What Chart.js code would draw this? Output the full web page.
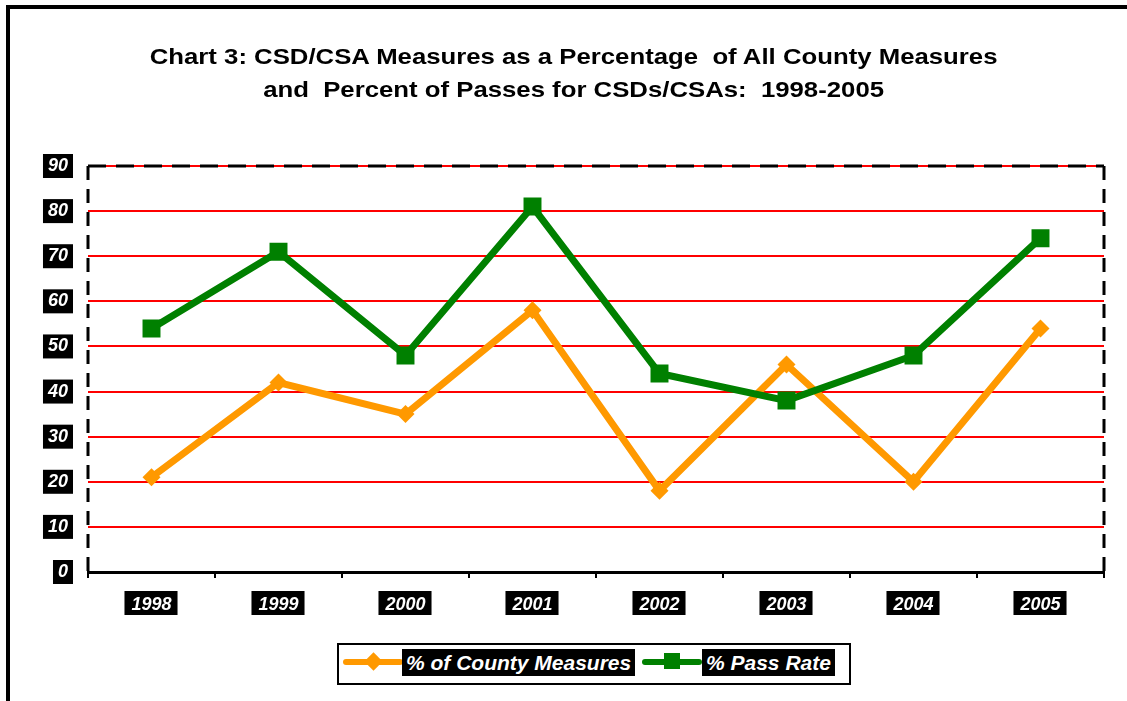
<!DOCTYPE html>
<html>
<head>
<meta charset="utf-8">
<script src="https://cdn.jsdelivr.net/npm/chart.js@4"></script>
<style>
  body { margin: 0; background: #fff; font-family: "Liberation Sans", Arial, sans-serif; }
  #wrap { position: relative; width: 1127px; height: 701px; overflow: hidden; }
  #frame { position: absolute; left: 6px; top: 5px; right: -10px; bottom: -10px;
    border-top: 4px solid #000; border-left: 4px solid #000; pointer-events: none; }
  #title { position: absolute; left: 0; width: 1147px; top: 40px; text-align: center;
    font-weight: bold; font-size: 22px; line-height: 33px; color: #000; white-space: pre;
    transform: scaleX(1.17); transform-origin: 573px 0; }
  #legend { position: absolute; left: 337px; top: 643px; width: 510px; height: 38px;
    border: 2px solid #000; box-sizing: content-box; }
  .lline { position: absolute; height: 6px; border-radius: 3px; top: 14px; }
  .lbox { position: absolute; top: 4px; height: 27px; background: #000; color: #fff;
    font-weight: bold; font-style: italic; font-size: 21px; line-height: 27px; padding: 0 4px; white-space: pre; }
  .mk { position: absolute; }
</style>
</head>
<body>
<div id="wrap">
  <canvas id="c" width="1127" height="701"></canvas>
  <div id="frame"></div>
  <div id="title">Chart 3: CSD/CSA Measures as a Percentage  of All County Measures
and  Percent of Passes for CSDs/CSAs:  1998-2005</div>
  <div id="legend">
    <div class="lline" style="left:4px;width:60px;background:#FF9900"></div>
    <div class="mk" style="left:28px;top:10px;width:13px;height:13px;background:#FF9900;transform:rotate(45deg)"></div>
    <div class="lbox" style="left:63px">% of County Measures</div>
    <div class="lline" style="left:303px;width:60px;background:#008000"></div>
    <div class="mk" style="left:325px;top:8px;width:16px;height:16px;background:#008000"></div>
    <div class="lbox" style="left:363px">% Pass Rate</div>
  </div>
</div>
<script>
const years = ["1998", "1999", "2000", "2001", "2002", "2003", "2004", "2005"];
const countyMeasures = [21, 42, 35, 58, 18, 46, 20, 54];
const passRate = [54, 71, 48, 81, 44, 38, 48, 74];
const yTicks = [0, 10, 20, 30, 40, 50, 60, 70, 80, 90];

const tickFont = { family: "Liberation Sans", size: 18, weight: "bold", style: "italic" };

// black boxes behind tick labels, dashed edges of the plot
const boxes = {
  id: "boxes",
  beforeDraw(chart) {
    const ctx = chart.ctx;
    const ca = chart.chartArea;
    ctx.save();
    ctx.font = "italic bold 18px 'Liberation Sans'";
    ctx.fillStyle = "#000";
    const ys = chart.scales.y;
    ys.ticks.forEach((t, i) => {
      const y = ys.getPixelForTick(i);
      const w = ctx.measureText(String(t.value)).width;
      const r = ca.left - 15;
      ctx.fillRect(r - w - 10, y - 12, w + 10, 24);
    });
    const xs = chart.scales.x;
    xs.ticks.forEach((t, i) => {
      const x = xs.getPixelForTick(i);
      const w = ctx.measureText(years[i]).width;
      ctx.fillRect(x - w / 2 - 7, ca.bottom + 19, w + 13, 24);
    });
    ctx.restore();
  },
  beforeDatasetsDraw(chart) {
    const ctx = chart.ctx;
    const ca = chart.chartArea;
    ctx.save();
    ctx.strokeStyle = "#000";
    ctx.lineWidth = 3;
    ctx.setLineDash([18, 10]);
    ctx.beginPath();
    ctx.moveTo(ca.left, ca.top);
    ctx.lineTo(ca.right, ca.top);
    ctx.stroke();
    ctx.setLineDash([14, 9]);
    ctx.beginPath();
    ctx.moveTo(ca.right, ca.top);
    ctx.lineTo(ca.right, ca.bottom);
    ctx.stroke();
    ctx.beginPath();
    ctx.moveTo(ca.left, ca.top);
    ctx.lineTo(ca.left, ca.bottom);
    ctx.stroke();
    ctx.restore();
  }
};

new Chart(document.getElementById("c"), {
  type: "line",
  data: {
    labels: years,
    datasets: [
      {
        label: "% of County Measures",
        data: countyMeasures,
        borderColor: "#FF9900",
        backgroundColor: "#FF9900",
        borderWidth: 7,
        pointStyle: "rectRot",
        pointRadius: 9,
        pointBorderWidth: 0,
        tension: 0,
        order: 2
      },
      {
        label: "% Pass Rate",
        data: passRate,
        borderColor: "#008000",
        backgroundColor: "#008000",
        borderWidth: 7,
        pointStyle: "rect",
        pointRadius: 12.7,
        pointBorderWidth: 0,
        tension: 0,
        order: 1
      }
    ]
  },
  options: {
    responsive: false,
    animation: false,
    layout: { padding: { top: 166, right: 23, left: 0, bottom: 0 } },
    plugins: { legend: { display: false }, title: { display: false }, tooltip: { enabled: false } },
    scales: {
      x: {
        offset: true,
        afterFit: s => { s.height = 129; },
        grid: { offset: true, drawOnChartArea: false, drawTicks: true, tickLength: 6, color: "#000", lineWidth: 2 },
        border: { color: "#000", width: 3 },
        ticks: { color: "#fff", font: tickFont, padding: 16, maxRotation: 0 }
      },
      y: {
        min: 0,
        max: 90,
        afterFit: s => { s.width = 88; },
        afterBuildTicks: s => { s.ticks = yTicks.map(v => ({ value: v })); },
        grid: {
          drawTicks: false,
          lineWidth: 2,
          color: c => (c.tick && c.tick.value === 0 ? "rgba(0,0,0,0)" : "#FF0000")
        },
        border: { display: false },
        ticks: { color: "#fff", font: tickFont, padding: 20, stepSize: 10 }
      }
    }
  },
  plugins: [boxes]
});
</script>
</body>
</html>
